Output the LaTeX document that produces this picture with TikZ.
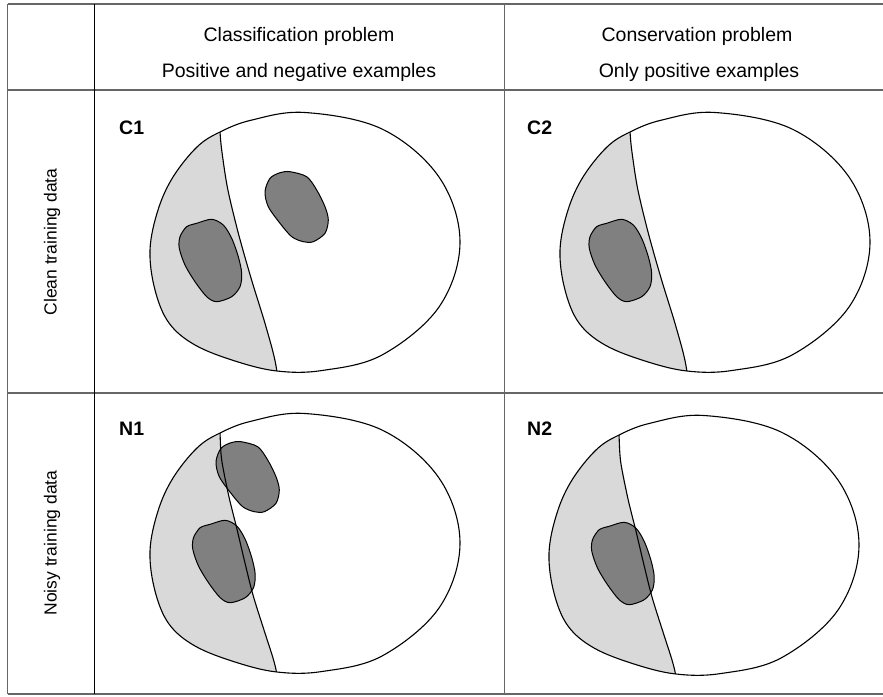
\documentclass[tikz,border=0pt]{standalone}
\usepackage{fontspec}
\setmainfont{Liberation Sans}
\begin{document}
\begin{tikzpicture}[x=1pt,y=-1pt,
  tline/.style={draw=black!60,line width=1.3pt},
  cline/.style={draw=black,line width=1pt},
  outl/.style={draw=black,line width=1.1pt},
  lightregion/.style={fill=black!15},
  blob/.style={fill=black!50,draw=black,line width=1pt},
  head/.style={font=\fontsize{19.5}{23}\selectfont,inner sep=0pt,anchor=base},
  rowlab/.style={font=\fontsize{17.5}{21}\selectfont,inner sep=0pt,rotate=90},
  tag/.style={font=\fontsize{19.5}{23}\selectfont\bfseries,inner sep=0pt,anchor=base west}]
\useasboundingbox (0,0) rectangle (883,696);
\fill[white] (0,0) rectangle (883,696);

\newcommand\outerpath{plot[smooth cycle,tension=0.6] coordinates {(220,132) (252,120) (305,112.5) (382,129) (439,177) (460,242) (439,307) (382,355) (322,370.5) (277,371) (235,361) (195,345) (169,323) (155,290) (150,250) (158,210) (173,177) (197,147)}}
\newcommand\divC{plot[smooth] coordinates {(219,118) (220,132) (221.7,150) (227.5,188) (238,232) (251,278) (264,320) (273,352) (276.7,370) (278,386)}}
\newcommand\divN{plot[smooth] coordinates {(219,118) (220,132.3) (221.7,159) (229,196) (236.7,227) (244.5,260) (253,294) (264,329) (273,357) (276.7,372.3) (278,388)}}
\newcommand\blobA{plot[smooth cycle] coordinates {(196.7,223.3) (211.7,219.3) (223.3,225) (231.7,238.3) (238.3,256.7) (241.7,273.3) (240,286.7) (231.7,296.7) (216.7,301.7) (206.7,296.7) (195,281.7) (185,265) (179.3,248.3) (180,236.7) (186.7,226.7)}}
\newcommand\blobB{plot[smooth cycle] coordinates {(290,171.7) (306.7,176.7) (316.7,190) (325,206.7) (328.3,220) (325,233.3) (313.3,241.7) (303.3,241.7) (291.7,236.7) (280,223.3) (268.3,206.7) (265,191.7) (270,178.3) (280,172.7)}}

\newcommand\drawcell[4]{%
 \begin{scope}[shift={(#1,#2)}]
  \fill[white] \outerpath;
  \begin{scope}
   \clip \outerpath;
   \fill[lightregion] #3 -- (120,390) -- (120,100) -- cycle;
  \end{scope}
  #4
  \begin{scope}
   \clip \outerpath;
   \draw[outl] #3;
  \end{scope}
  \draw[outl] \outerpath;
 \end{scope}}

% table
\draw[tline] (7.5,4) -- (883,4);
\draw[tline] (7.5,90) -- (883,90);
\draw[tline] (7.5,393) -- (883,393);
\draw[tline] (7.5,694) -- (883,694);
\draw[tline] (7.5,4) -- (7.5,694);
\draw[tline] (504.5,4) -- (504.5,694);
\draw[cline] (94.5,4) -- (94.5,694);

% headers
\node[head] (h1a) at (299,41.5) {Classification problem};
\node[head] (h1b) at (299,77) {Positive and negative examples};
\node[head] (h2a) at (697,41.5) {Conservation problem};
\node[head] (h2b) at (699,77) {Only positive examples};
\node[rowlab] (r1) at (52,242) {Clean training data};
\node[rowlab] (r2) at (52,543) {Noisy training data};

% cells
\drawcell{0}{0}{\divC}{\filldraw[blob] \blobA; \filldraw[blob] \blobB;}
\drawcell{410}{0}{\divC}{\filldraw[blob] \blobA;}
\drawcell{0}{301}{\divN}{\begin{scope}[shift={(13.5,0)}]\filldraw[blob] \blobA;\end{scope}\begin{scope}[shift={(-49,-31)}]\filldraw[blob] \blobB;\end{scope}}
\drawcell{399}{303}{\divN}{\begin{scope}[shift={(13.5,0)}]\filldraw[blob] \blobA;\end{scope}}

\node[tag] (c1) at (119,134) {C1};
\node[tag] (c2) at (527,134) {C2};
\node[tag] (n1) at (119,435) {N1};
\node[tag] (n2) at (527,435) {N2};
\end{tikzpicture}
\end{document}
